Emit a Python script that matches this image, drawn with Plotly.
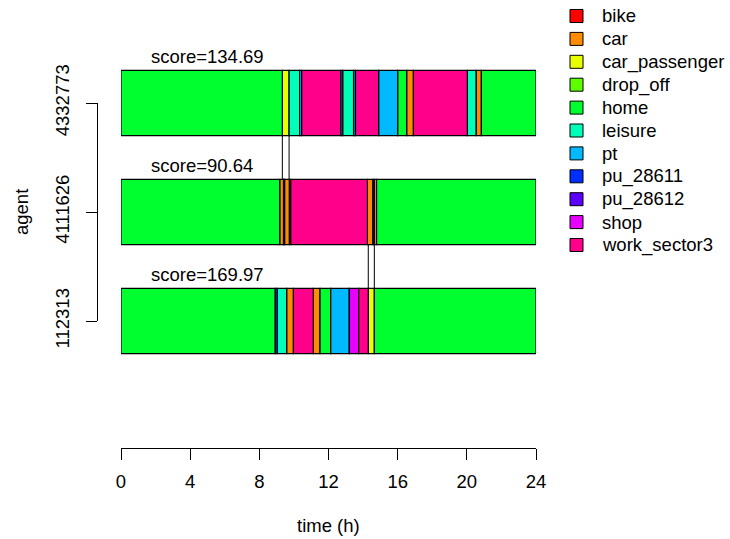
import plotly.graph_objects as go

# ---------------- data ----------------
agents = ["112313", "4111626", "4332773"]          # bottom -> top
scores = [169.97, 90.64, 134.69]

act_types = ["bike", "car", "car_passenger", "drop_off", "home", "leisure",
             "pt", "pu_28611", "pu_28612", "shop", "work_sector3"]
act_colors = ["#FF0000", "#FF8B00", "#E8FF00", "#5DFF00", "#00FF2E", "#00FFB9",
              "#00B9FF", "#002EFF", "#5D00FF", "#E800FF", "#FF008B"]

acts_112313 = ["home", "pu_28611", "leisure", "car", "work_sector3", "car", "home",
               "pt", "shop", "work_sector3", "car_passenger", "home"]
times_112313 = [0, 8.92, 9.04, 9.58, 9.97, 11.12, 11.51, 12.13, 13.20, 13.75,
                14.30, 14.65, 24]

acts_4111626 = ["home", "car", "pu_28612", "car", "drop_off", "work_sector3", "car",
                "pu_28611", "car", "home"]
times_4111626 = [0, 9.18, 9.40, 9.46, 9.74, 9.82, 14.25, 14.57, 14.65, 14.78, 24]

acts_4332773 = ["home", "car_passenger", "leisure", "pt", "work_sector3", "pt",
                "leisure", "pt", "work_sector3", "pt", "home", "car", "work_sector3",
                "leisure", "car", "home"]
times_4332773 = [0, 9.33, 9.72, 10.33, 10.45, 12.71, 12.82, 13.45, 13.56, 14.90,
                 16.0, 16.52, 16.91, 20.03, 20.53, 20.84, 24]

plans = {"112313": (acts_112313, times_112313),
         "4111626": (acts_4111626, times_4111626),
         "4332773": (acts_4332773, times_4332773)}

# passenger agent -> driver agent
driver_of = {"4332773": "4111626", "112313": "4111626"}

x_ticks = [0, 4, 8, 12, 16, 20, 24]

# ---------------- geometry ----------------
W, H = 730, 539
BAR_W = 0.6
FONT = "Liberation Sans, Arial, sans-serif"
FS = 18.5

px_x0, px_x1 = 121, 536
px_y1, px_y3 = 321, 103
ppu = (px_y1 - px_y3) / 2.0
px_bottom, px_top = 448, 40
y_lo = 1 - (px_bottom - px_y1) / ppu
y_hi = 1 + (px_y1 - px_top) / ppu

pos = {a: i + 1 for i, a in enumerate(agents)}

fig = go.Figure()

for t, c in zip(act_types, act_colors):
    ys, bases, lens = [], [], []
    for a in agents:
        acts, times = plans[a]
        for k, act in enumerate(acts):
            if act == t:
                ys.append(pos[a])
                bases.append(times[k])
                lens.append(times[k + 1] - times[k])
    fig.add_trace(go.Bar(
        y=ys, x=lens, base=bases, orientation="h", width=BAR_W,
        name=t, marker=dict(color=c, line=dict(color="black", width=1.2)),
        showlegend=False, hoverinfo="skip"))

# invisible trace for the agent axis
fig.add_trace(go.Scatter(x=[0, 0, 0], y=[1, 2, 3], xaxis="x2", yaxis="y2",
                         mode="markers", marker=dict(opacity=0),
                         showlegend=False, hoverinfo="skip"))

# connecting lines for shared rides
shapes = []
for pas, drv in driver_of.items():
    acts, times = plans[pas]
    for k, act in enumerate(acts):
        if act == "car_passenger":
            yp, yd = pos[pas], pos[drv]
            if yp > yd:
                ya, yb = yp - BAR_W / 2, yd + BAR_W / 2
            else:
                ya, yb = yp + BAR_W / 2, yd - BAR_W / 2
            for tx in (times[k], times[k + 1]):
                shapes.append(dict(type="line", xref="x", yref="y", x0=tx, x1=tx,
                                   y0=ya, y1=yb, line=dict(color="black", width=1)))

annotations = []
for a, s in zip(agents, scores):
    annotations.append(dict(x=1.6, y=pos[a] + 0.43, xref="x", yref="y",
                            text=f"score={s:.2f}", showarrow=False,
                            xanchor="left", yanchor="middle",
                            font=dict(family=FONT, size=FS, color="black")))
annotations.append(dict(x=22 / W, y=1 - 212 / H, xref="paper", yref="paper",
                        text="agent", textangle=-90, showarrow=False,
                        xanchor="center", yanchor="middle",
                        font=dict(family=FONT, size=FS, color="black")))
annotations.append(dict(x=(px_x0 + px_x1) / 2 / W, y=1 - 525 / H, xref="paper",
                        yref="paper", text="time (h)", showarrow=False,
                        xanchor="center", yanchor="middle",
                        font=dict(family=FONT, size=FS, color="black")))

# legend (drawn in page pixels, R-style)
leg_x_box, leg_x_text, leg_y0, leg_dy, box = 570, 600, 16, 22.9, 13
for i, (t, c) in enumerate(zip(act_types, act_colors)):
    cy = leg_y0 + i * leg_dy
    shapes.append(dict(type="rect", xref="paper", yref="paper",
                       x0=leg_x_box / W, x1=(leg_x_box + box) / W,
                       y0=1 - (cy - box / 2) / H, y1=1 - (cy + box / 2) / H,
                       fillcolor=c, line=dict(color="black", width=1)))
    annotations.append(dict(x=leg_x_text / W, y=1 - cy / H, xref="paper", yref="paper",
                            text=t, showarrow=False, xanchor="left", yanchor="middle",
                            font=dict(family=FONT, size=FS, color="black")))

xdom = [px_x0 / W, px_x1 / W]
fig.update_layout(
    template="none",
    width=W, height=H,
    margin=dict(l=0, r=0, t=0, b=0, pad=0, autoexpand=False),
    paper_bgcolor="white", plot_bgcolor="rgba(0,0,0,0)",
    barmode="overlay", showlegend=False,
    font=dict(family=FONT, size=FS, color="black"),
    xaxis=dict(domain=xdom, range=[0, 24], tickvals=x_ticks, showgrid=False,
               zeroline=False, showline=True, linecolor="black", linewidth=1,
               ticks="outside", ticklen=11, tickcolor="black", tickwidth=1,
               anchor="y", automargin=False, ticklabelstandoff=6),
    yaxis=dict(domain=[1 - px_bottom / H, 1 - px_top / H], range=[y_lo, y_hi],
               visible=False, fixedrange=True, automargin=False),
    xaxis2=dict(domain=[0, 0.01], range=[0, 24], anchor="y2", visible=False,
                automargin=False),
    yaxis2=dict(domain=[1 - px_y1 / H, 1 - px_y3 / H], range=[1, 3],
                anchor="free", position=97 / W, side="left",
                tickvals=[1, 2, 3], ticktext=agents, tickangle=-90,
                showgrid=False, zeroline=False, showline=True, linecolor="black",
                linewidth=1, ticks="outside", ticklen=11, tickcolor="black",
                tickwidth=1, automargin=False, ticklabelstandoff=10),
    shapes=shapes, annotations=annotations,
)

fig.write_html("out.html", config={"displayModeBar": False},
               post_script="document.body.style.margin='0';")
